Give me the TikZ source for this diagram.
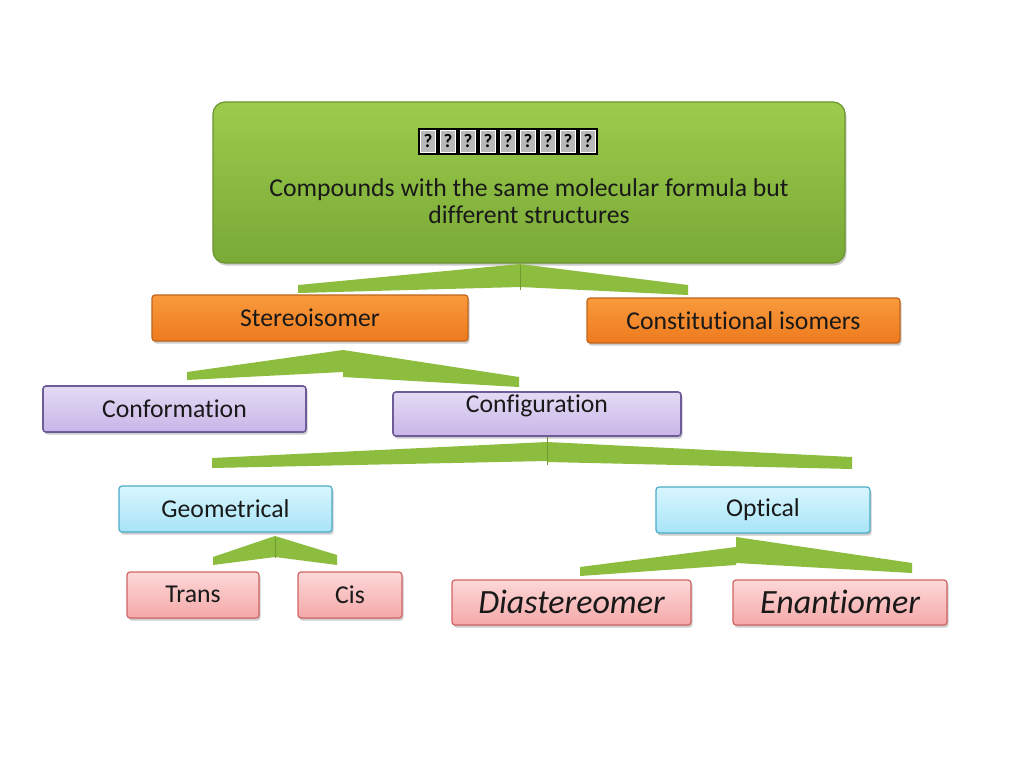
\documentclass[tikz,border=0pt]{standalone}
\usepackage{fontspec}
\setmainfont{Carlito}[Ligatures=NoCommon]
\usetikzlibrary{shadows}
\definecolor{gtop}{HTML}{9DCB4C}
\definecolor{gbot}{HTML}{79A937}
\definecolor{gline}{HTML}{6A9530}
\definecolor{otop}{HTML}{F89A3C}
\definecolor{obot}{HTML}{EE7A1E}
\definecolor{oline}{HTML}{C0651C}
\definecolor{ltop}{HTML}{E4DBF4}
\definecolor{lbot}{HTML}{C8B5E8}
\definecolor{lline}{HTML}{6E5C98}
\definecolor{btop}{HTML}{D8F6FE}
\definecolor{bbot}{HTML}{A8E4F7}
\definecolor{bline}{HTML}{4BACC6}
\definecolor{ptop}{HTML}{FDD8D8}
\definecolor{pbot}{HTML}{F5A8A8}
\definecolor{pline}{HTML}{D06464}
\definecolor{wedgecol}{HTML}{8CBD3E}
\definecolor{seam}{HTML}{6F9A30}
\begin{document}
\begin{tikzpicture}[x=1pt,y=-1pt,
  every node/.style={text=black!90, font=\fontsize{25.7}{27}\selectfont},
  boxbase/.style={rectangle, rounded corners=3pt, line width=1.2pt, inner sep=0pt,
     drop shadow={shadow xshift=1.5pt, shadow yshift=-2.5pt, opacity=0.4}},
  titlebox/.style={boxbase, rounded corners=12pt, draw=gline, top color=gtop, bottom color=gbot},
  orangebox/.style={boxbase, draw=oline, top color=otop, bottom color=obot},
  lavbox/.style={boxbase, line width=1.6pt, draw=lline, top color=ltop, bottom color=lbot},
  bluebox/.style={boxbase, draw=bline, top color=btop, bottom color=bbot},
  pinkbox/.style={boxbase, draw=pline, top color=ptop, bottom color=pbot},
  bigital/.style={font=\fontsize{34}{38}\selectfont\itshape},
  wedge/.style={fill=wedgecol},
  seamline/.style={draw=seam, line width=0.8pt},
  tofu/.style={fill=gray!55, draw=black, line width=2pt, minimum width=18pt,
     minimum height=25pt, inner sep=0pt, text=black,
     font=\fontsize{19}{19}\selectfont\bfseries,
     path picture={\draw[white, line width=0.9pt]
        ([shift={(1.6pt,-1.6pt)}]path picture bounding box.north west) rectangle
        ([shift={(-1.6pt,1.6pt)}]path picture bounding box.south east);}}
]
\useasboundingbox (0,0) rectangle (1024,768);
\fill[white] (0,0) rectangle (1024,768);

% boxes
\node[titlebox, minimum width=632pt, minimum height=161pt] (title) at (529,182.5) {};
\foreach \i in {0,...,8} \node[tofu] (t\i) at (428+\i*20,141.5) {?};
\node[align=center] (desc) at (529,201) {Compounds with the same molecular formula but\\different structures};

\node[orangebox, minimum width=316pt, minimum height=46pt] (stereo) at (310,318) {\raisebox{1pt}{Stereoisomer}};
\node[orangebox, minimum width=313pt, minimum height=45pt] (const) at (743.5,320.5) {Constitutional isomers};
\node[lavbox, minimum width=263pt, minimum height=46pt] (conf) at (174.5,409) {Conformation};
\node[lavbox, minimum width=288pt, minimum height=44pt] (config) at (537,414) {\raisebox{21pt}{Configuration}};
\node[bluebox, minimum width=213pt, minimum height=46pt] (geom) at (225.5,509) {Geometrical};
\node[bluebox, minimum width=214pt, minimum height=46pt] (opt) at (763,510) {Optical};
\node[pinkbox, minimum width=132pt, minimum height=46pt] (trans) at (193,595) {\raisebox{1pt}{Trans}};
\node[pinkbox, minimum width=104pt, minimum height=46pt] (cis) at (350,595) {\raisebox{1pt}{Cis}};
\node[pinkbox, minimum width=239pt, minimum height=45pt, bigital] (dia) at (571.5,602.5) {\raisebox{1.5pt}{Diastereomer}};
\node[pinkbox, minimum width=214pt, minimum height=45pt, bigital] (ena) at (840,602.5) {\raisebox{1.5pt}{Enantiomer}};

% wedge connectors
% title -> stereo / const
\fill[wedge] (520,264) -- (298,285) -- (298,293) -- (520,287) -- cycle;
\fill[wedge] (520,264) -- (688,285) -- (688,295) -- (520,287) -- cycle;
\draw[seamline] (520,265) -- (520,290);
% stereo -> conf / config
\fill[wedge] (343,350) -- (187,372) -- (187,380) -- (343,372) -- cycle;
\fill[wedge] (343,350) -- (519,377) -- (519,387) -- (343,377) -- cycle;
% config -> geom / opt
\fill[wedge] (547,442) -- (212,458) -- (212,468) -- (547,461) -- cycle;
\fill[wedge] (547,442) -- (852,457) -- (852,469) -- (547,462) -- cycle;
\draw[seamline] (547,437) -- (547,465);
% geom -> trans / cis
\fill[wedge] (275,536) -- (213,557) -- (213,565) -- (275,557) -- cycle;
\fill[wedge] (275,536) -- (337,555) -- (337,565) -- (275,557) -- cycle;
\draw[seamline] (275,538) -- (275,558);
% opt -> dia / ena
\fill[wedge] (736,547) -- (580,567) -- (580,576) -- (736,565) -- cycle;
\fill[wedge] (736,537) -- (912,563) -- (912,573) -- (736,563) -- cycle;
\end{tikzpicture}
\end{document}
